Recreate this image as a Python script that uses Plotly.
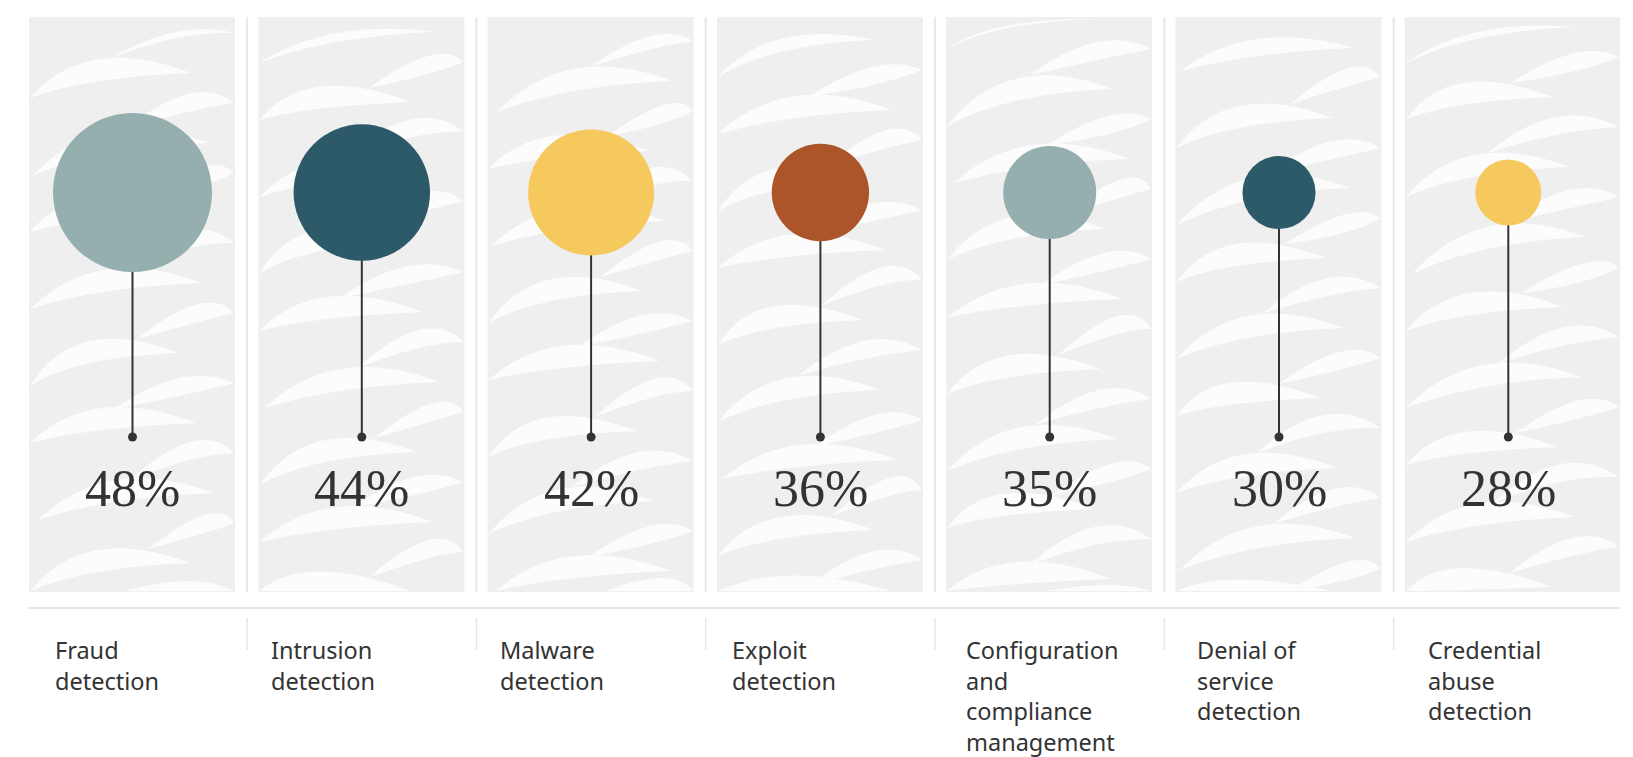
import plotly.graph_objects as go

# ---- data -------------------------------------------------------------
categories = [
    "Fraud<br>detection",
    "Intrusion<br>detection",
    "Malware<br>detection",
    "Exploit<br>detection",
    "Configuration<br>and<br>compliance<br>management",
    "Denial of<br>service<br>detection",
    "Credential<br>abuse<br>detection",
]
values = [48, 44, 42, 36, 35, 30, 28]
value_labels = [f"{v}%" for v in values]

# ---- style ------------------------------------------------------------
W, H = 1633, 757
STEP = 229.3          # pixels between category centres
FIRST = 132.5         # pixel x of the first centre
palette = ["#95aeae", "#2c5a68", "#f6c95e", "#ac552a", "#95aeae", "#2c5a68", "#f6c95e"]
label_offsets = [-0.345, -0.405, -0.405, -0.395, -0.375, -0.367, -0.36]
INK = "#333333"
BUBBLE_Y = 192.5
DOT_Y = 437
PANEL_TOP, PANEL_BOT = 17, 592


def px_to_x(px):
    return (px - FIRST) / STEP


def bubble_diameter(v):
    return 0.0612 * v * v + 18


n = len(categories)
xs = list(range(n))

fig = go.Figure()

# stems
stem_x, stem_y = [], []
for i in xs:
    stem_x += [i, i, None]
    stem_y += [BUBBLE_Y, DOT_Y, None]
fig.add_trace(go.Scatter(x=stem_x, y=stem_y, mode="lines",
                         line=dict(color=INK, width=2), hoverinfo="skip"))
# end dots
fig.add_trace(go.Scatter(x=xs, y=[DOT_Y] * n, mode="markers",
                         marker=dict(color=INK, size=9), hoverinfo="skip"))
# bubbles
fig.add_trace(go.Scatter(
    x=xs, y=[BUBBLE_Y] * n, mode="markers",
    marker=dict(color=palette, size=[bubble_diameter(v) for v in values],
                line=dict(width=0), opacity=1),
    customdata=values, hovertemplate="%{customdata}%<extra></extra>"))

shapes = []

# textured background panels
for i in xs:
    left_px = FIRST + STEP * i - 103.5
    right_px = FIRST + STEP * i + 102.5 if i < n - 1 else 1620
    shapes.append(dict(type="rect", xref="x", yref="y",
                       x0=px_to_x(left_px), x1=px_to_x(right_px),
                       y0=PANEL_TOP, y1=PANEL_BOT,
                       fillcolor="#efefef", line=dict(width=0), layer="below"))

    def cl(p):
        x = min(max(p[0], left_px + 1), right_px - 1)
        y = min(max(p[1], PANEL_TOP + 1), PANEL_BOT - 1)
        return x, y

    def crescent(p0, c, p2, t):
        pts = [cl(p0), cl((c[0], c[1] - t)), cl(p2), cl((c[0], c[1] + t))]
        X = [f"{px_to_x(p[0]):.5f}" for p in pts]
        Y = [f"{p[1]:.2f}" for p in pts]
        return (f"M {X[0]},{Y[0]} Q {X[1]},{Y[1]} {X[2]},{Y[2]} "
                f"Q {X[3]},{Y[3]} {X[0]},{Y[0]} Z")

    shift = (i * 29) % 50 - 20
    for r in range(9):
        base = PANEL_TOP + 70 * r + shift
        jig = ((i * 31 + r * 17) % 40) - 20
        sway = ((i * 13 + r * 7) % 20) - 10
        shapes.append(dict(
            type="path", xref="x", yref="y", layer="below",
            path=crescent((left_px - 10 + jig, base + 34 + sway),
                          (left_px + 60 + jig, base - 12),
                          (left_px + 165 + jig, base + 6), 22),
            fillcolor="#fcfcfc", line=dict(width=0)))
        shapes.append(dict(
            type="path", xref="x", yref="y", layer="below",
            path=crescent((left_px + 100 + jig, base + 62),
                          (left_px + 170 + jig, base + 26 + sway),
                          (right_px + 40, base + 36), 18),
            fillcolor="#fcfcfc", line=dict(width=0)))

# dividers between panels and between labels
for i in xs[:-1]:
    xm = i + 0.5
    shapes.append(dict(type="line", xref="x", yref="y", x0=xm, x1=xm,
                       y0=PANEL_TOP, y1=PANEL_BOT,
                       line=dict(color="#e8e8e8", width=2), layer="below"))
    shapes.append(dict(type="line", xref="x", yref="y", x0=xm, x1=xm,
                       y0=618, y1=650,
                       line=dict(color="#e6e6e6", width=1.5), layer="below"))

# baseline under the panels
shapes.append(dict(type="line", xref="x", yref="y",
                   x0=px_to_x(29), x1=px_to_x(1620), y0=608, y1=608,
                   line=dict(color="#dddddd", width=1.5), layer="below"))

annotations = []
for i, (cat, lab) in enumerate(zip(categories, value_labels)):
    annotations.append(dict(
        x=i, y=488, xref="x", yref="y", text=lab, showarrow=False,
        xanchor="center", yanchor="middle",
        font=dict(family="Liberation Serif", size=52, color=INK)))
    annotations.append(dict(
        x=i + label_offsets[i], y=632, xref="x", yref="y",
        text=cat, showarrow=False, xanchor="left", yanchor="top", align="left",
        font=dict(family="Noto Sans", size=23.5, color=INK)))

fig.update_layout(
    width=W, height=H,
    margin=dict(l=0, r=0, t=0, b=0),
    paper_bgcolor="white", plot_bgcolor="white",
    showlegend=False,
    xaxis=dict(range=[px_to_x(0), px_to_x(W)], visible=False, fixedrange=True),
    yaxis=dict(range=[H, 0], visible=False, fixedrange=True),
    shapes=shapes, annotations=annotations,
)

fig.write_html("out.html")
